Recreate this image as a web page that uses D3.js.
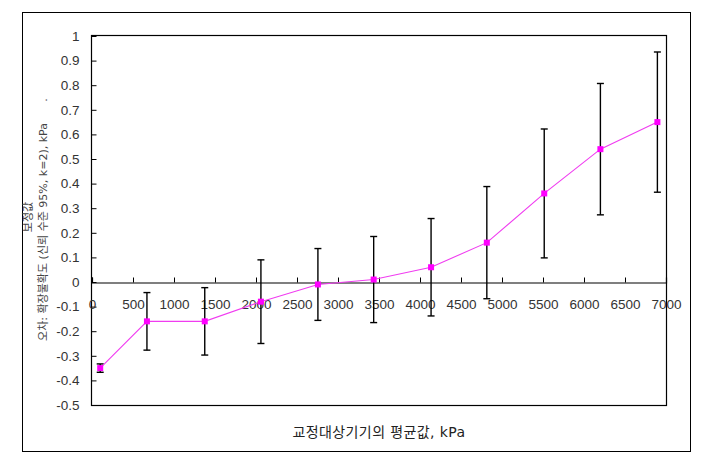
<!DOCTYPE html>
<html><head><meta charset="utf-8">
<script src="https://cdn.jsdelivr.net/npm/d3@7/dist/d3.min.js"></script>
<style>body{margin:0;background:#fff}svg{display:block}</style>
</head><body>
<svg id="c" width="708" height="460"></svg>
<script>
const xValues = [100, 670, 1375, 2060, 2755, 3435, 4135, 4815, 5515, 6200, 6895];
const yValues = [-0.35, -0.16, -0.16, -0.08, -0.01, 0.01, 0.06, 0.16, 0.36, 0.54, 0.65];
const errValues = [0.017, 0.117, 0.137, 0.17, 0.146, 0.175, 0.198, 0.228, 0.262, 0.267, 0.285];
const xTicks = [0, 500, 1000, 1500, 2000, 2500, 3000, 3500, 4000, 4500, 5000, 5500, 6000, 6500, 7000];
const yTicks = [-0.5, -0.4, -0.3, -0.2, -0.1, 0, 0.1, 0.2, 0.3, 0.4, 0.5, 0.6, 0.7, 0.8, 0.9, 1];
const yTickLabels = ["-0.5","-0.4","-0.3","-0.2","-0.1","0","0.1","0.2","0.3","0.4","0.5","0.6","0.7","0.8","0.9","1"];
const xTitle = "교정대상기기의 평균값, kPa";
const yTitle1 = "보정값";
const yTitle2 = "오차: 확장불확도 (신뢰 수준 95%, k=2), kPa";

const svg = d3.select("#c");
const L = 92, R = 666, T = 36, B = 405;
const x = d3.scaleLinear().domain([0, 7000]).range([L, R]);
const y = d3.scaleLinear().domain([-0.5, 1]).range([B, T]);
const font = "'Liberation Sans', Arial, sans-serif";
const kfont = "'DejaVu Sans', 'Noto Sans CJK KR', sans-serif";

// outer border
svg.append("rect").attr("x", 22.5).attr("y", 12.5).attr("width", 668).attr("height", 439)
  .attr("fill", "none").attr("stroke", "#000").attr("stroke-width", 1);
// plot border
svg.append("rect").attr("x", L - 0.5).attr("y", T - 0.5).attr("width", R - L + 1).attr("height", B - T + 1)
  .attr("fill", "none").attr("stroke", "#000").attr("stroke-width", 1.2);

// y axis
const yAxis = d3.axisLeft(y).tickValues(yTicks).tickSize(-5).tickPadding(12)
  .tickFormat((d, i) => yTickLabels[i]);
const gy = svg.append("g").attr("transform", `translate(${L - 0.5},0)`).call(yAxis);
gy.select(".domain").remove();
gy.selectAll("line").attr("stroke", "#000");
gy.selectAll("text").attr("font-family", font).attr("font-size", 13.5).attr("fill", "#333");

// x axis at y=0
const xAxis = d3.axisBottom(x).tickValues(xTicks).tickSize(-5).tickPadding(17).tickFormat(d3.format("d"));
const gx = svg.append("g").attr("transform", `translate(0,${Math.round(y(0)) + 0.5})`).call(xAxis);
gx.select(".domain").attr("stroke", "#000").attr("stroke-width", 1.2);
gx.selectAll("line").attr("stroke", "#000");
gx.selectAll("text").attr("font-family", font).attr("font-size", 13.5).attr("fill", "#333");

const data = xValues.map((d, i) => ({x: d, y: yValues[i], e: errValues[i]}));

// error bars
const eb = svg.append("g").attr("stroke", "#000").attr("stroke-width", 1.4);
data.forEach(d => {
  const cx = x(d.x);
  eb.append("line").attr("x1", cx).attr("x2", cx).attr("y1", y(d.y + d.e)).attr("y2", y(d.y - d.e));
  eb.append("line").attr("x1", cx - 3.5).attr("x2", cx + 3.5).attr("y1", y(d.y + d.e)).attr("y2", y(d.y + d.e));
  eb.append("line").attr("x1", cx - 3.5).attr("x2", cx + 3.5).attr("y1", y(d.y - d.e)).attr("y2", y(d.y - d.e));
});

// line
svg.append("path").datum(data)
  .attr("d", d3.line().x(d => x(d.x)).y(d => y(d.y)))
  .attr("fill", "none").attr("stroke", "#f03cf0").attr("stroke-width", 1.1);

// markers
svg.append("g").selectAll("rect").data(data).join("rect")
  .attr("x", d => x(d.x) - 3).attr("y", d => y(d.y) - 3)
  .attr("width", 6).attr("height", 6).attr("fill", "#ff00ff");

// x title
svg.append("text").attr("x", (L + R) / 2).attr("y", 437).attr("text-anchor", "middle")
  .attr("font-family", kfont).attr("font-size", 14).attr("letter-spacing", 0.4)
  .attr("fill", "#222").text(xTitle);

// y title
svg.append("text").attr("transform", `translate(32,217) rotate(-90)`).attr("text-anchor", "middle")
  .attr("font-family", kfont).attr("font-size", 11).attr("fill", "#444").text(yTitle1);
svg.append("text").attr("transform", `translate(47,232) rotate(-90)`).attr("text-anchor", "middle")
  .attr("font-family", kfont).attr("font-size", 11).attr("fill", "#444").text(yTitle2);
svg.append("text").attr("transform", `translate(47,100) rotate(-90)`).attr("text-anchor", "middle")
  .attr("font-family", kfont).attr("font-size", 11).attr("fill", "#444").text(".");
</script>
</body></html>
